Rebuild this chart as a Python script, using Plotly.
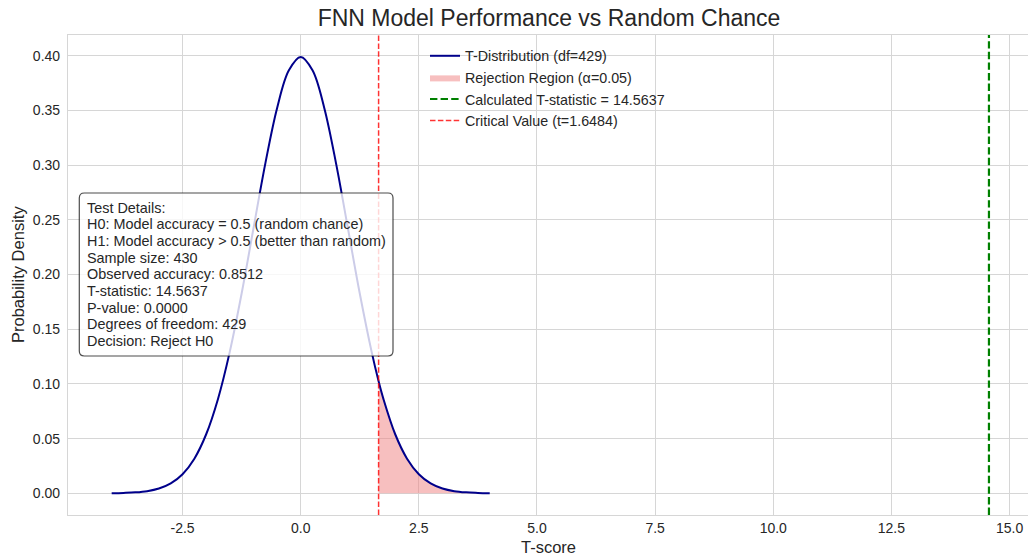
import plotly.graph_objects as go

# ---- data ----
curve_x = [-4.0, -3.75, -3.5, -3.25, -3.0, -2.75, -2.5, -2.25, -2.0, -1.75, -1.5, -1.25, -1.0,
           -0.75, -0.5, -0.25, 0.0, 0.25, 0.5, 0.75, 1.0, 1.25, 1.5, 1.6484, 1.75, 2.0, 2.25,
           2.5, 2.75, 3.0, 3.25, 3.5, 3.75, 4.0]
curve_y = [0.0001, 0.0004, 0.0009, 0.0020, 0.0044, 0.0091, 0.0175, 0.0317, 0.0540, 0.0863,
           0.1295, 0.1826, 0.2420, 0.3011, 0.3520, 0.3866, 0.3988, 0.3866, 0.3520, 0.3011,
           0.2420, 0.1826, 0.1295, 0.1024, 0.0863, 0.0540, 0.0317, 0.0175, 0.0091, 0.0044,
           0.0020, 0.0009, 0.0004, 0.0001]
df_value = 429
alpha = 0.05
t_stat = 14.5637
t_crit = 1.6484
info_lines = [
    "Test Details:",
    "H0: Model accuracy = 0.5 (random chance)",
    "H1: Model accuracy > 0.5 (better than random)",
    "Sample size: 430",
    "Observed accuracy: 0.8512",
    "T-statistic: 14.5637",
    "P-value: 0.0000",
    "Degrees of freedom: 429",
    "Decision: Reject H0",
]
x_ticks = [-2.5, 0.0, 2.5, 5.0, 7.5, 10.0, 12.5, 15.0]
y_ticks = [0.0, 0.05, 0.10, 0.15, 0.20, 0.25, 0.30, 0.35, 0.40]

FONT = "Liberation Sans, Arial, sans-serif"
TXT = "#262626"
GRID = "#d6d6d6"

W, H = 1028, 559
L, R, T, B = 68, 0, 35, 44
PW, PH = W - L - R, H - T - B


def px(x):
    return (x - L) / PW


def py(y):
    return (H - B - y) / PH


tail_x = [x for x in curve_x if x >= t_crit]
tail_y = [y for x, y in zip(curve_x, curve_y) if x >= t_crit]
poly_x = tail_x + [tail_x[-1], tail_x[0]]
poly_y = tail_y + [0.0, 0.0]

fig = go.Figure()
fig.add_trace(go.Scatter(
    x=poly_x, y=poly_y, mode="lines", fill="toself", name=f"Rejection Region (α={alpha})",
    fillcolor="rgba(240,128,128,0.5)", line=dict(width=0), legendrank=2))
fig.add_trace(go.Scatter(
    x=curve_x, y=curve_y, mode="lines", name=f"T-Distribution (df={df_value})",
    line=dict(color="#00008B", width=2, shape="spline"), legendrank=1))
fig.add_trace(go.Scatter(
    x=[t_stat, t_stat], y=[-0.0198, 0.4189], mode="lines",
    name=f"Calculated T-statistic = {t_stat}",
    line=dict(color="#008000", width=2.2, dash="7.4px,3.2px"), legendrank=3))
fig.add_trace(go.Scatter(
    x=[t_crit, t_crit], y=[-0.0198, 0.4189], mode="lines",
    name=f"Critical Value (t={t_crit})",
    line=dict(color="rgba(255,0,0,0.8)", width=1.5, dash="5.5px,2.4px"), legendrank=4))

# rounded info box
bx0, bx1, by0, by1 = px(79.3), px(393), py(356), py(193)
rx, ry = 5 / PW, 5 / PH
path = (f"M {bx0+rx},{by0} L {bx1-rx},{by0} Q {bx1},{by0} {bx1},{by0+ry} "
        f"L {bx1},{by1-ry} Q {bx1},{by1} {bx1-rx},{by1} L {bx0+rx},{by1} "
        f"Q {bx0},{by1} {bx0},{by1-ry} L {bx0},{by0+ry} Q {bx0},{by0} {bx0+rx},{by0} Z")
fig.add_shape(type="path", path=path, xref="paper", yref="paper",
              fillcolor="rgba(255,255,255,0.8)", line=dict(color="rgba(0,0,0,0.7)", width=1.2),
              layer="above")

for i, line in enumerate(info_lines):
    fig.add_annotation(text=line, xref="paper", yref="paper", x=px(84.5), y=py(207.7 + i * 16.67),
                       xanchor="left", yanchor="middle", showarrow=False,
                       font=dict(family=FONT, size=14.4, color=TXT))

# axis titles
fig.add_annotation(text="T-score", xref="paper", yref="paper", x=px(548), y=py(547),
                   xanchor="center", yanchor="middle", showarrow=False,
                   font=dict(family=FONT, size=16.5, color=TXT))
fig.add_annotation(text="Probability Density", xref="paper", yref="paper", x=px(18), y=py(275),
                   xanchor="center", yanchor="middle", showarrow=False, textangle=-90,
                   font=dict(family=FONT, size=16.5, color=TXT))

fig.update_layout(
    width=W, height=H,
    margin=dict(l=L, r=R, t=T, b=B),
    paper_bgcolor="white", plot_bgcolor="white",
    title=dict(text="FNN Model Performance vs Random Chance", x=549 / W, xanchor="center",
               y=1 - 18 / H, yanchor="middle", yref="container",
               font=dict(family=FONT, size=23, color=TXT)),
    font=dict(family=FONT, size=14, color=TXT),
    showlegend=True,
    legend=dict(x=px(425), y=py(40), xanchor="left", yanchor="top",
                bgcolor="rgba(0,0,0,0)", borderwidth=0,
                font=dict(family=FONT, size=14.3, color=TXT)),
    xaxis=dict(range=[-4.924, 15.39], tickvals=x_ticks, ticktext=[f"{v:.1f}" for v in x_ticks],
               showgrid=True, gridcolor=GRID, gridwidth=1, zeroline=False,
               showline=True, linecolor=GRID, linewidth=1.2, mirror=True, ticks="",
               tickfont=dict(family=FONT, size=14, color=TXT)),
    yaxis=dict(range=[-0.0198, 0.4189], tickvals=y_ticks, ticktext=[f"{v:.2f}" for v in y_ticks],
               showgrid=True, gridcolor=GRID, gridwidth=1, zeroline=False,
               showline=True, linecolor=GRID, linewidth=1.2, mirror=True,
               ticks="outside", ticklen=4, tickcolor="rgba(255,255,255,0)",
               tickfont=dict(family=FONT, size=14, color=TXT)),
)

fig.write_html("out.html")
